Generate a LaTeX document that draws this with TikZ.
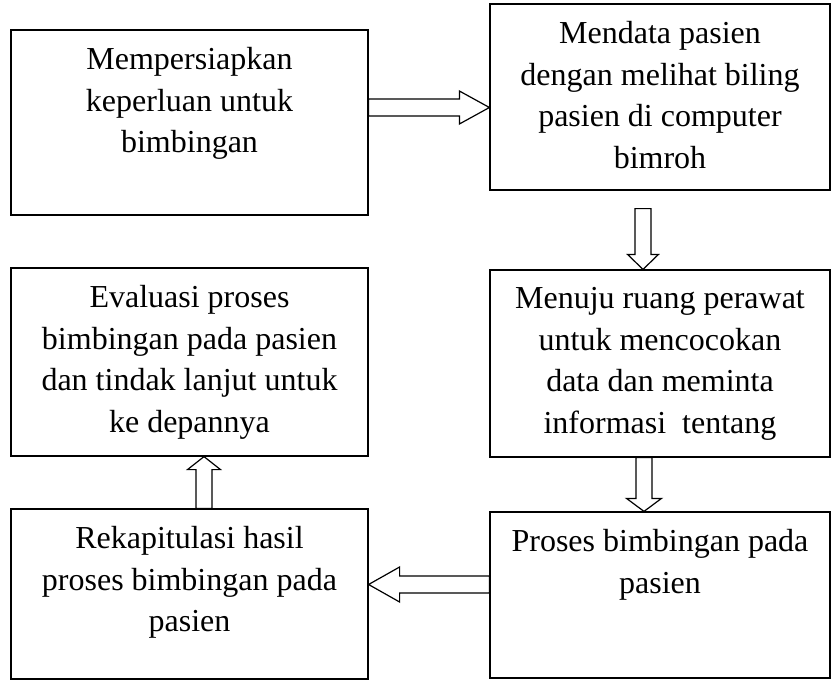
\documentclass[tikz,border=0pt]{standalone}
\usepackage{fontspec}
\setmainfont{Liberation Serif}
\usetikzlibrary{positioning,calc}
\tikzset{
  flowbox/.style = {draw, line width=1.2pt, inner sep=0pt},
  flowtext/.style = {align=center, inner sep=0pt, font=\fontsize{32}{41.5}\selectfont},
  bigarrow/.style = {line width=1.2pt, line join=miter}
}
% tail, tip, head length, shaft half width, head half width
\newcommand\blockarrow[5]{%
  \coordinate (ah) at ($(#2)!#3!(#1)$);
  \draw[bigarrow] ($(#1)!#4!90:(#2)$) -- ($(ah)!#4!90:(#2)$) -- ($(ah)!#5!90:(#2)$)
    -- (#2) -- ($(ah)!#5!-90:(#2)$) -- ($(ah)!#4!-90:(#2)$) -- ($(#1)!#4!-90:(#2)$) -- cycle;
}
\begin{document}
\begin{tikzpicture}[x = 1pt, y = -1pt]
\useasboundingbox (0,0) rectangle (836,680);
\node[flowbox, minimum width=357pt, minimum height=185pt] (b1) at (189.5,122.5) {};
\node[flowbox, minimum width=340pt, minimum height=186pt] (b2) at (660,97) {};
\node[flowbox, minimum width=340pt, minimum height=187pt] (b3) at (660,363.5) {};
\node[flowbox, minimum width=357pt, minimum height=188pt] (b4) at (189.5,362) {};
\node[flowbox, minimum width=357pt, minimum height=170pt] (b5) at (189.5,594) {};
\node[flowbox, minimum width=340pt, minimum height=166pt] (b6) at (660,595) {};

\node[flowtext, below=18pt of b1.north] (t1) {Mempersiapkan\\keperluan untuk\\bimbingan};
\node[flowtext, below=18pt of b2.north] (t2) {Mendata pasien\\dengan melihat biling\\pasien di computer\\bimroh};
\node[flowtext, below=18pt of b3.north] (t3) {Menuju ruang perawat\\untuk mencocokan\\data dan meminta\\informasi\ \ tentang};
\node[flowtext, below=18pt of b4.north] (t4) {Evaluasi proses\\bimbingan pada pasien\\dan tindak lanjut untuk\\ke depannya};
\node[flowtext, below=18pt of b5.north] (t5) {Rekapitulasi hasil\\proses bimbingan pada\\pasien};
\node[flowtext, below=18pt of b6.north] (t6) {Proses bimbingan pada\\pasien};

\coordinate (a1) at ($(b1.east)+(0,-15)$);
\coordinate (a2) at ($(b2.west)+(0,10.5)$);
\coordinate (a3) at ($(b2.south)+(-17,18)$);
\coordinate (a4) at ($(b3.north)+(-17,0)$);
\coordinate (a5) at ($(b3.south)+(-16,0)$);
\coordinate (a6) at ($(b6.north)+(-16,0)$);
\coordinate (a7) at ($(b6.west)+(0,-10.5)$);
\coordinate (a8) at ($(b5.east)+(0,-9.5)$);
\coordinate (a9) at ($(b5.north)+(14.5,0)$);
\coordinate (a10) at ($(b4.south)+(14.5,0)$);

\blockarrow{a1}{a2}{30pt}{8.5pt}{16.5pt}
\blockarrow{a3}{a4}{15pt}{8pt}{15.5pt}
\blockarrow{a5}{a6}{13pt}{8pt}{17.5pt}
\blockarrow{a7}{a8}{31pt}{8.5pt}{17.5pt}
\blockarrow{a9}{a10}{13pt}{8pt}{16.5pt}
\end{tikzpicture}
\end{document}
